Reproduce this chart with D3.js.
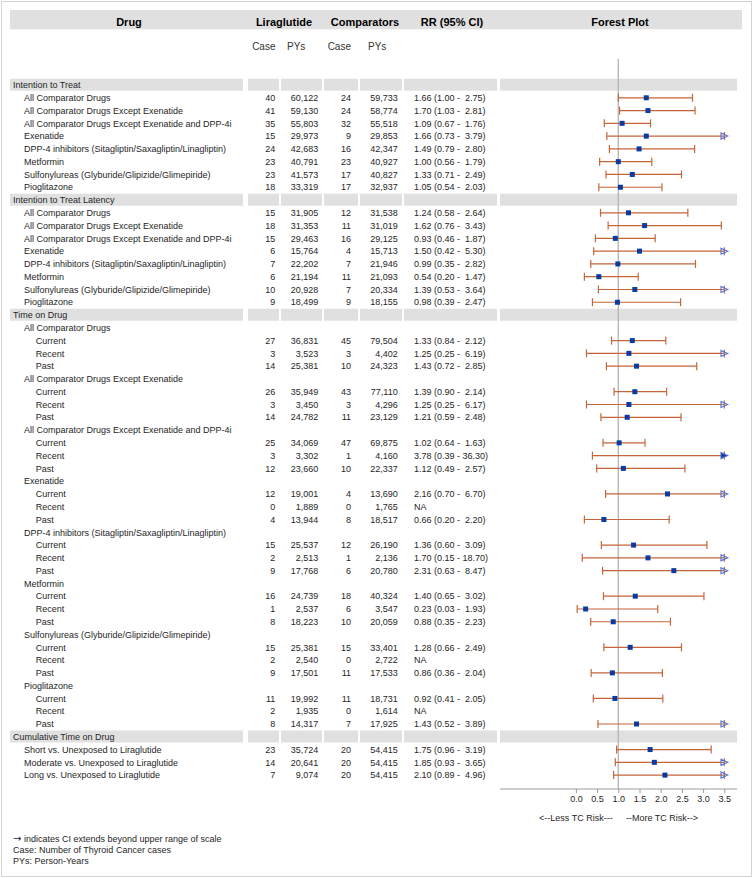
<!DOCTYPE html>
<html><head><meta charset="utf-8">
<script src="https://cdn.jsdelivr.net/npm/d3@7"></script>
<style>
body{margin:0;background:#fff}
svg{display:block}
text{font-family:"Liberation Sans",Arial,Helvetica,sans-serif}
</style>
</head><body>
<svg id="chart" width="754" height="878"></svg>
<script>
// ---------- DATA ----------
const labels = [
 "Intention to Treat",
 "All Comparator Drugs","All Comparator Drugs Except Exenatide","All Comparator Drugs Except Exenatide and DPP-4i","Exenatide",
 "DPP-4 inhibitors (Sitagliptin/Saxagliptin/Linagliptin)","Metformin","Sulfonylureas (Glyburide/Glipizide/Glimepiride)","Pioglitazone",
 "Intention to Treat Latency",
 "All Comparator Drugs","All Comparator Drugs Except Exenatide","All Comparator Drugs Except Exenatide and DPP-4i","Exenatide",
 "DPP-4 inhibitors (Sitagliptin/Saxagliptin/Linagliptin)","Metformin","Sulfonylureas (Glyburide/Glipizide/Glimepiride)","Pioglitazone",
 "Time on Drug",
 "All Comparator Drugs","Current","Recent","Past",
 "All Comparator Drugs Except Exenatide","Current","Recent","Past",
 "All Comparator Drugs Except Exenatide and DPP-4i","Current","Recent","Past",
 "Exenatide","Current","Recent","Past",
 "DPP-4 inhibitors (Sitagliptin/Saxagliptin/Linagliptin)","Current","Recent","Past",
 "Metformin","Current","Recent","Past",
 "Sulfonylureas (Glyburide/Glipizide/Glimepiride)","Current","Recent","Past",
 "Pioglitazone","Current","Recent","Past",
 "Cumulative Time on Drug",
 "Short vs. Unexposed to Liraglutide","Moderate vs. Unexposed to Liraglutide","Long vs. Unexposed to Liraglutide"
];
// 0 = section, 1 = item, 2 = sub-item
const levels = [0,1,1,1,1,1,1,1,1, 0,1,1,1,1,1,1,1,1, 0,1,2,2,2,1,2,2,2,1,2,2,2,1,2,2,2,1,2,2,2,1,2,2,2,1,2,2,2,1,2,2,2, 0,1,1,1];
const N = null;
const liraCase = [N,40,41,35,15,24,23,23,18, N,15,18,15,6,7,6,10,9, N,N,27,3,14,N,26,3,14,N,25,3,12,N,12,0,4,N,15,2,9,N,16,1,8,N,15,2,9,N,11,2,8, N,23,14,7];
const liraPYs  = [N,60122,59130,55803,29973,42683,40791,41573,33319, N,31905,31353,29463,15764,22202,21194,20928,18499,
 N,N,36831,3523,25381,N,35949,3450,24782,N,34069,3302,23660,N,19001,1889,13944,N,25537,2513,17768,N,24739,2537,18223,N,25381,2540,17501,N,19992,1935,14317,
 N,35724,20641,9074];
const compCase = [N,24,24,32,9,16,23,17,17, N,12,11,16,4,7,11,7,9, N,N,45,3,10,N,43,3,11,N,47,1,10,N,4,0,8,N,12,1,6,N,18,6,10,N,15,0,11,N,11,0,7, N,20,20,20];
const compPYs  = [N,59733,58774,55518,29853,42347,40927,40827,32937, N,31538,31019,29125,15713,21946,21093,20334,18155,
 N,N,79504,4402,24323,N,77110,4296,23129,N,69875,4160,22337,N,13690,1765,18517,N,26190,2136,20780,N,40324,3547,20059,N,33401,2722,17533,N,18731,1614,17925,
 N,54415,54415,54415];
const rr = [N,1.66,1.70,1.09,1.66,1.49,1.00,1.33,1.05, N,1.24,1.62,0.93,1.50,0.99,0.54,1.39,0.98,
 N,N,1.33,1.25,1.43,N,1.39,1.25,1.21,N,1.02,3.78,1.12,N,2.16,N,0.66,N,1.36,1.70,2.31,N,1.40,0.23,0.88,N,1.28,N,0.86,N,0.92,N,1.43,
 N,1.75,1.85,2.10];
const lower = [N,1.00,1.03,0.67,0.73,0.79,0.56,0.71,0.54, N,0.58,0.76,0.46,0.42,0.35,0.20,0.53,0.39,
 N,N,0.84,0.25,0.72,N,0.90,0.25,0.59,N,0.64,0.39,0.49,N,0.70,N,0.20,N,0.60,0.15,0.63,N,0.65,0.03,0.35,N,0.66,N,0.36,N,0.41,N,0.52,
 N,0.96,0.93,0.89];
const upper = [N,2.75,2.81,1.76,3.79,2.80,1.79,2.49,2.03, N,2.64,3.43,1.87,5.30,2.82,1.47,3.64,2.47,
 N,N,2.12,6.19,2.85,N,2.14,6.17,2.48,N,1.63,36.30,2.57,N,6.70,N,2.20,N,3.09,18.70,8.47,N,3.02,1.93,2.23,N,2.49,N,2.04,N,2.05,N,3.89,
 N,3.19,3.65,4.96];
const tickValues = [0,0.5,1,1.5,2,2.5,3,3.5];
const headers = ["Drug","Liraglutide","Comparators","RR (95% CI)","Forest Plot"];
const subHeaders = ["Case","PYs","Case","PYs"];
const riskLabels = ["<--Less TC Risk---","--More TC Risk-->"];
const footArrow = "\u2192";
const footnotes = [" indicates CI extends beyond upper range of scale","Case: Number of Thyroid Cancer cases","PYs: Person-Years"];
const xMax = 3.5, refValue = 1;

// ---------- LAYOUT ----------
const svg = d3.select("#chart");
const txt = "#262626";
const cells = [[10,243],[248,279],[281,322],[324,358],[360,402],[404,497],[500,737]];
const y = d3.scalePoint().domain(d3.range(labels.length)).range([85, 85 + (labels.length - 1) * 12.78]);
const x = d3.scaleLinear().domain([0, xMax]).range([575.9, 724.3]);
const fmtN = d3.format(",");
const f2 = d3.format(".2f");
const axisY = 789;

// outer border
svg.append("rect").attr("x",1.5).attr("y",1.5).attr("width",750).attr("height",875)
  .attr("fill","none").attr("stroke","#d4d4d4").attr("stroke-width",1);

// header band
svg.append("rect").attr("x",10).attr("y",10).attr("width",732).attr("height",19.3).attr("fill","#e0e0e0");
const headerX = [129,284,365,452,620];
svg.selectAll("text.hdr").data(headers).join("text").attr("class","hdr")
  .attr("x",(d,i)=>headerX[i]).attr("y",26).attr("text-anchor","middle")
  .attr("font-size",11).attr("font-weight","bold").attr("fill","#000").text(d=>d);
const subX = [275.5,287,351,368];
const subAnchor = ["end","start","end","start"];
svg.selectAll("text.sub").data(subHeaders).join("text").attr("class","sub")
  .attr("x",(d,i)=>subX[i]).attr("y",50.3).attr("text-anchor",(d,i)=>subAnchor[i])
  .attr("font-size",10).attr("fill","#333").text(d=>d);

// section bands
const sectionIdx = d3.range(labels.length).filter(i=>levels[i]===0);
sectionIdx.forEach(i=>{
  cells.forEach(c=>{
    svg.append("rect").attr("x",c[0]).attr("y",y(i)-6.3).attr("width",c[1]-c[0]).attr("height",12)
      .attr("fill","#e0e0e0");
  });
});

// reference line
svg.append("line").attr("x1",x(refValue)).attr("x2",x(refValue)).attr("y1",59).attr("y2",axisY)
  .attr("stroke","#b4b4b4").attr("stroke-width",1.3);

// row labels
const indent = [13,24,35.7];
svg.selectAll("text.lab").data(labels).join("text").attr("class","lab")
  .attr("x",(d,i)=>indent[levels[i]]).attr("y",(d,i)=>y(i)+3.2)
  .attr("font-size",9).attr("fill",txt).text(d=>d);

// numeric columns
function numCol(arr, xr){
  svg.append("g").selectAll("text").data(arr.map((v,i)=>({v,i})).filter(d=>d.v!==null)).join("text")
    .attr("x",xr).attr("y",d=>y(d.i)+3.2).attr("text-anchor","end")
    .attr("font-size",9).attr("fill",txt).text(d=>fmtN(d.v));
}
numCol(liraCase,275.3);
numCol(liraPYs,318.3);
numCol(compCase,351);
numCol(compPYs,397.7);

// RR column
const rrRows = d3.range(labels.length).filter(i=>levels[i]!==0 && liraCase[i]!==null);
svg.append("g").selectAll("text").data(rrRows).join("text")
  .attr("x",414).attr("y",i=>y(i)+3.2).attr("font-size",9).attr("fill",txt)
  .text(i=>{
    if(rr[i]===null) return "NA";
    let hi = f2(upper[i]);
    while(hi.length<5) hi = "\u00A0"+hi;
    return f2(rr[i])+" ("+f2(lower[i])+" - "+hi+")";
  });

// forest plot
const ciColor = "#c6643a", markColor = "#0b3aa0", arrowColor = "#4a70d4";
const plotRows = rrRows.filter(i=>rr[i]!==null);
const g = svg.append("g");
plotRows.forEach(i=>{
  const yy = y(i);
  const hiV = Math.min(upper[i], xMax);
  g.append("line").attr("x1",x(lower[i])).attr("x2",x(hiV)).attr("y1",yy).attr("y2",yy)
    .attr("stroke",ciColor).attr("stroke-width",1.2);
  [lower[i],hiV].forEach(v=>{
    g.append("line").attr("x1",x(v)).attr("x2",x(v)).attr("y1",yy-4).attr("y2",yy+4)
      .attr("stroke",ciColor).attr("stroke-width",1.2);
  });
  if(upper[i]>xMax){
    const ax = x(xMax);
    g.append("path").attr("d",`M${ax-3.3},${yy-3}L${ax+3.4},${yy}L${ax-3.3},${yy+3}Z`)
      .attr("fill", rr[i]>xMax ? markColor : "none").attr("stroke",arrowColor).attr("stroke-width",1.1);
  }
  if(rr[i]<=xMax){
    g.append("rect").attr("x",x(rr[i])-2.5).attr("y",yy-2.5).attr("width",5).attr("height",5).attr("fill",markColor);
  }
});

// axis
svg.append("line").attr("x1",500).attr("x2",737).attr("y1",axisY).attr("y2",axisY).attr("stroke","#9a9a9a");
const axis = svg.append("g").attr("transform",`translate(0,${axisY})`)
  .call(d3.axisBottom(x).tickValues(tickValues).tickFormat(d3.format(".1f")).tickSize(4).tickPadding(3));
axis.select(".domain").remove();
axis.selectAll(".tick line").attr("stroke","#9a9a9a");
axis.selectAll(".tick text").attr("font-size",9).attr("fill",txt).attr("font-family","Liberation Sans, Arial, sans-serif");

svg.append("text").attr("x",612.7).attr("y",821).attr("text-anchor","end").attr("font-size",9).attr("fill",txt).text(riskLabels[0]);
svg.append("text").attr("x",626).attr("y",821).attr("text-anchor","start").attr("font-size",9).attr("fill",txt).text(riskLabels[1]);

// footnotes
const footY = [841.5,852.5,864];
const ft = svg.selectAll("text.foot").data(footnotes).join("text").attr("class","foot")
  .attr("x",13).attr("y",(d,i)=>footY[i]).attr("font-size",9).attr("fill",txt);
ft.each(function(d,i){
  const t = d3.select(this);
  if(i===0){
    t.append("tspan").attr("font-family","DejaVu Sans").attr("font-size",10).text(footArrow);
  }
  t.append("tspan").text(d);
});
</script>
</body></html>
